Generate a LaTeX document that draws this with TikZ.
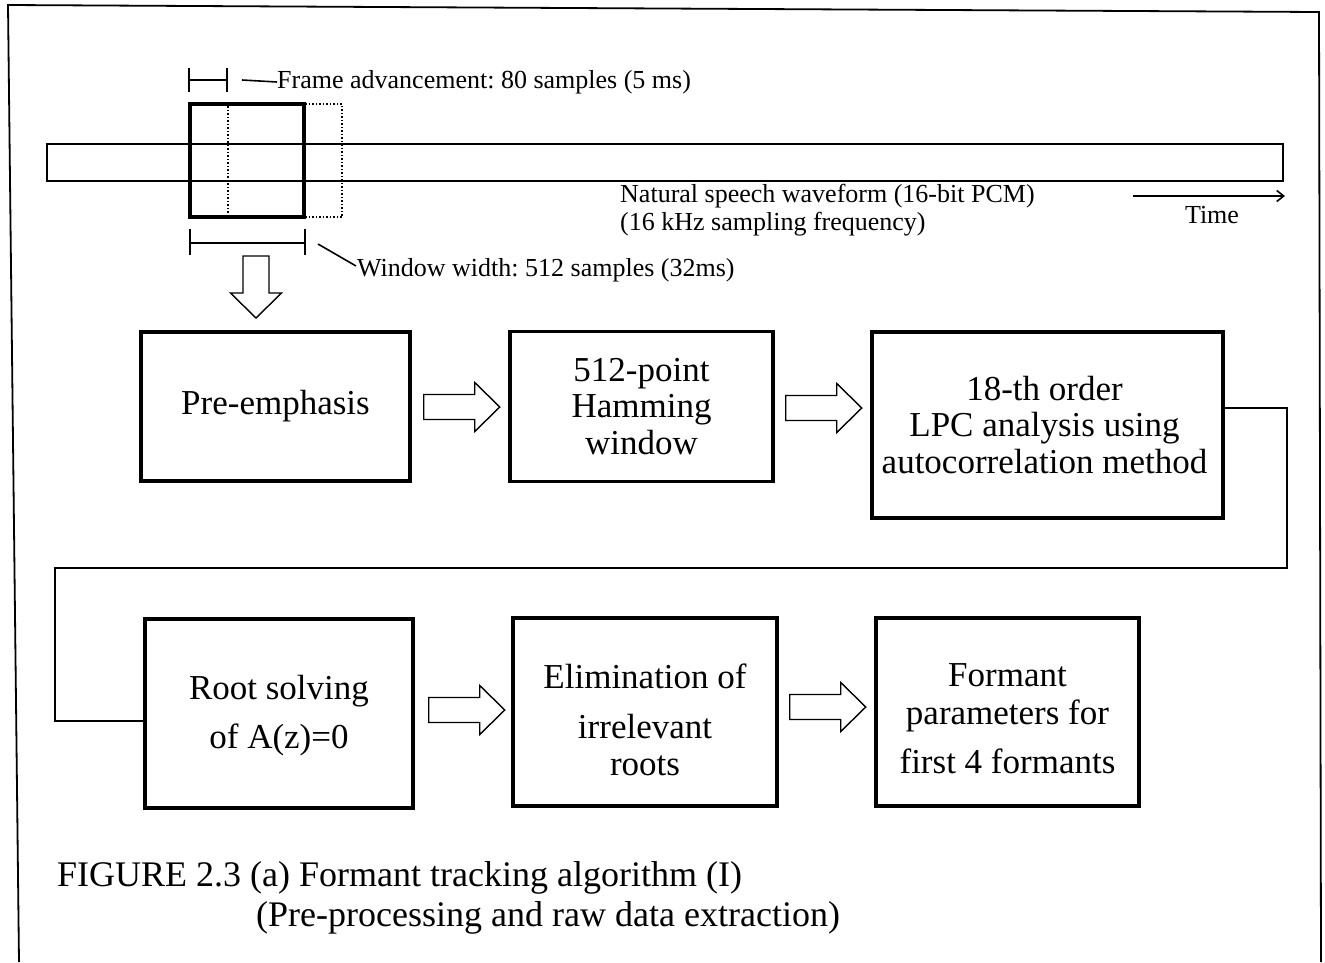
\documentclass[tikz,border=0pt]{standalone}
\usepackage{fontspec}
\setmainfont{Liberation Serif}
\usetikzlibrary{calc,arrows.meta}
\frenchspacing
\begin{document}
\begin{tikzpicture}[x=1pt,y=-1pt,
  stage/.style={draw, line width=3.5pt, inner sep=0pt},
  stagetext/.style={font=\fontsize{35}{36.5}\selectfont, align=center, inner sep=0pt},
  note/.style={font=\fontsize{26}{28}\selectfont, inner sep=0pt, anchor=west},
  captext/.style={font=\fontsize{36}{38}\selectfont, inner sep=0pt, anchor=west},
  thinline/.style={line width=1.6pt},
  hollow/.style={line width=1.4pt, line join=miter},
  pics/harrow/.style={code={
    \draw[hollow] (0,-12.5) -- (51,-12.5) -- (51,-24.5) -- (76,0)
      -- (51,24.5) -- (51,12.5) -- (0,12.5) -- cycle;}},
  pics/darrow/.style={code={
    \draw[hollow] (-13,0) -- (-13,37) -- (-25.5,37) -- (0,62)
      -- (25.5,37) -- (13,37) -- (13,0) -- cycle;}}
]
\useasboundingbox (0,0) rectangle (1325,962);

% outer frame (open at the bottom)
\draw[line width=1.8pt] (19,962) -- (8,5) -- (1319,12) -- (1321,962);

% speech waveform bar with the analysis window
\node[draw, line width=1.5pt, dash pattern=on 1.5pt off 2pt, minimum width=114, minimum height=113, inner sep=0pt] (nextwin) at (285,160.5) {};
\node[draw, thinline, minimum width=1236, minimum height=37, inner sep=0pt] (wave) at (665,162.5) {};
\node[draw, line width=3.5pt, minimum width=114, minimum height=113, inner sep=0pt] (win) at (247,160.5) {};

% frame advancement dimension
\node[note] (fa) at (277,82) {Frame advancement: 80 samples (5 ms)};
\draw[thinline] (189,68) -- (189,92) (227,68) -- (227,92) (189,80) -- (227,80);
\coordinate (faL) at (242,80);
\draw[thinline] (faL) -- (fa.west);

% window width dimension
\node[note] (ww) at (357,270) {Window width: 512 samples (32ms)};
\draw[thinline] (190,229) -- (190,255) (305,229) -- (305,255) (190,243) -- (305,243);
\coordinate (wwL) at (318,244);
\draw[thinline] (wwL) -- ($(ww.west)+(-1,-4)$);

% waveform labels and time axis
\node[note] (wl1) at (620,196) {Natural speech waveform (16-bit PCM)};
\node[note] (wl2) at (620,224) {(16 kHz sampling frequency)};
\node[note, anchor=center] (time) at (1212,215) {Time};
\coordinate (t0) at (1133,196);
\coordinate (t1) at (1285,196);
\draw[thinline, -{Straight Barb[length=7pt,width=11pt]}] (t0) -- (t1);

% window output into the first stage
\pic at (256,256) {darrow};

% processing stages
\node[stage, minimum width=269, minimum height=149] (pre) at (275.5,406.5) {};
\node[stagetext] (pretext) at (pre.center) {Pre-emphasis};
\node[stage, minimum width=263, minimum height=150] (ham) at (641.5,406.5) {};
\node[stagetext] (hamtext) at (ham.center) {512-point\\Hamming\\window};
\node[stage, minimum width=351, minimum height=186] (lpc) at (1047.5,425) {};
\node[stagetext] (lpctext) at ($(lpc.center)+(-3,0)$) {18-th order\\LPC analysis using\\autocorrelation method};

\node[stage, minimum width=268, minimum height=189] (root) at (279,713.5) {};
\node[stagetext] (roottext) at ($(root.center)+(0,2)$) {Root solving\\[13pt]of A(z)=0};
\node[stage, minimum width=264, minimum height=188] (elim) at (645,712) {};
\node[stagetext] (elimtext) at ($(elim.center)+(0,8)$) {Elimination of\\[13pt]irrelevant\\[1pt]roots};
\node[stage, minimum width=263, minimum height=188] (form) at (1007.5,712) {};
\node[stagetext] (formtext) at ($(form.center)+(0,7)$) {Formant\\[1pt]parameters for\\[13pt]first 4 formants};

% hollow arrows between stages
\pic at ($(pre.east)+(12,0.5)$) {harrow};
\pic at ($(ham.east)+(11,1.5)$) {harrow};
\pic at ($(root.east)+(14,-3.5)$) {harrow};
\pic at ($(elim.east)+(11,-5)$) {harrow};

% return line from the LPC stage to root solving
\coordinate (c1) at (1287,568);
\coordinate (c2) at (55,568);
\draw[thinline] ([yshift=17pt]lpc.east) -| (c1) -- (c2) |- ([yshift=-7.5pt]root.west);

% caption
\node[captext] (cap1) at (57,878) {FIGURE 2.3 (a) Formant tracking algorithm (I)};
\node[captext] (cap2) at (256,918) {(Pre-processing and raw data extraction)};
\end{tikzpicture}
\end{document}
